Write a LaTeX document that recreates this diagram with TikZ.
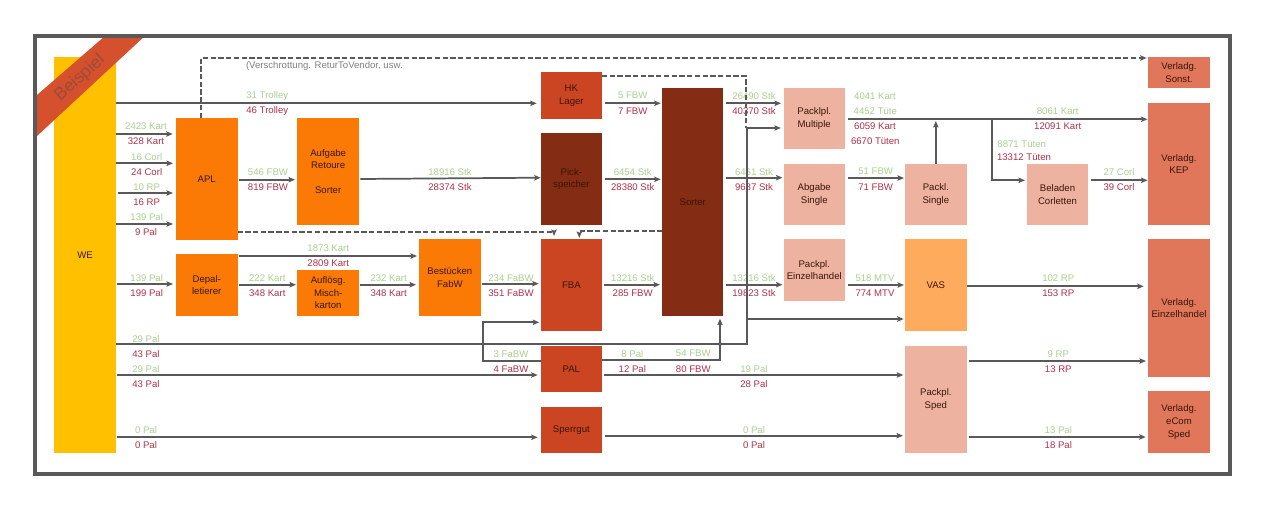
\documentclass[tikz,border=0pt]{standalone}
\usepackage{fontspec}
\setmainfont{Liberation Sans}
\usetikzlibrary{arrows.meta}
\definecolor{cwe}{HTML}{FFC000}
\definecolor{corange}{HTML}{FB7A05}
\definecolor{cred}{HTML}{CC4522}
\definecolor{cdark}{HTML}{842C14}
\definecolor{cpale}{HTML}{EEB3A0}
\definecolor{cvas}{HTML}{FFAB5E}
\definecolor{cverl}{HTML}{E0775A}
\definecolor{cribbon}{HTML}{D5502C}
\definecolor{cline}{HTML}{595959}
\definecolor{cgreen}{HTML}{A9D18E}
\definecolor{cmaroon}{HTML}{B0304A}
\definecolor{cboxtext}{HTML}{3A1508}
\newcount\lblcount
\newcommand{\bx}[7]{\node[boxnode,fill=#6,minimum width={(#4-#2)*0.75pt},minimum height={(#5-#3)*0.75pt}] (#1) at ({(#2+#4)/2},{(#3+#5)/2}) {#7};}
\newcommand{\lbl}[4]{\global\advance\lblcount by 1 \node[flowlabel,text=#1] (lab\the\lblcount) at (#2,#3) {#4};}
\newcommand{\gl}[3]{\lbl{cgreen}{#1}{#2}{#3}}
\newcommand{\rd}[3]{\lbl{cmaroon}{#1}{#2}{#3}}
\newcommand{\flow}[5]{\draw[conn,shorten <=#4*0.75pt,shorten >=#5*0.75pt] (#1.east |- 0,#3) -- (#2.west |- 0,#3);}
\tikzset{
  x=0.75pt,y=-0.75pt,
  boxnode/.style={inner sep=0pt,outer sep=0pt,align=center,text=cboxtext,font=\fontsize{7.2}{9.4}\selectfont},
  flowlabel/.style={inner sep=0pt,outer sep=0pt,font=\fontsize{7.2}{9}\selectfont},
  conn/.style={draw=cline,line width=1.3pt,-{Stealth[length=4.8pt,width=4pt,inset=0.8pt]}},
  dashconn/.style={conn,dash pattern=on 4pt off 1.8pt},
  dashplain/.style={draw=cline,line width=1.3pt,dash pattern=on 4pt off 1.8pt}
}
\begin{document}
\begin{tikzpicture}
\useasboundingbox (0,0) rectangle (1280,507);
\fill[white] (0,0) rectangle (1280,507);
% boxes
\bx{we}{54}{57}{116}{452.7}{cwe}{WE}
\bx{apl}{176}{118}{237.5}{240}{corange}{APL}
\bx{aufgabe}{297.3}{118}{359}{225}{corange}{Aufgabe\\Retoure\\~\\Sorter}
\bx{depal}{176}{254.3}{237.5}{316}{corange}{Depal-\\letierer}
\bx{aufl}{297.3}{270}{359}{316}{corange}{Auflösg.\\Misch-\\karton}
\bx{best}{419}{239.3}{480.7}{316}{corange}{Bestücken\\FabW}
\bx{hk}{540.7}{72.3}{602}{118.7}{cred}{HK\\Lager}
\bx{pick}{540.7}{133}{602}{225}{cdark}{Pick-\\speicher}
\bx{fba}{540.7}{239.3}{602}{331}{cred}{FBA}
\bx{pal}{540.7}{346}{602}{392}{cred}{PAL}
\bx{sperr}{540.7}{406.7}{602}{452.7}{cred}{Sperrgut}
\bx{sorter}{662.3}{87.7}{723.3}{316}{cdark}{Sorter}
\bx{mult}{783.5}{87.7}{845}{149}{cpale}{Packlpl.\\Multiple}
\bx{abgabe}{783.5}{163.7}{845}{225}{cpale}{Abgabe\\Single}
\bx{einzel}{783.5}{239.3}{845}{300.7}{cpale}{Packpl.\\Einzelhandel}
\bx{single}{905}{163.7}{966.7}{225}{cpale}{Packl.\\Single}
\bx{vas}{905}{239.3}{966.7}{331}{cvas}{VAS}
\bx{sped}{905}{346}{966.7}{452.7}{cpale}{Packpl.\\Sped}
\bx{belad}{1026.7}{163.7}{1088.3}{225}{cpale}{Beladen\\Corletten}
\bx{sonst}{1148}{57.3}{1210}{88.3}{cverl}{Verladg.\\Sonst.}
\bx{kep}{1148}{102.7}{1210}{225}{cverl}{Verladg.\\KEP}
\bx{veinz}{1148}{239.3}{1210}{376.7}{cverl}{Verladg.\\Einzelhandel}
\bx{ecom}{1148}{391.3}{1210}{452.7}{cverl}{Verladg.\\eCom\\Sped}
% ribbon and frame
\fill[cribbon] (102.7,38) -- (142.7,38) -- (37,136) -- (37,95) -- cycle;
\node[inner sep=0pt,rotate=42,text=black!25!cribbon!75!gray,font=\fontsize{13}{13}\selectfont] (beispiel) at (80,78) {Beispiel};
\draw[cline,line width=3pt] (35,36) rectangle (1230,474);
% labels
\node[flowlabel,anchor=west,text=gray] (note) at (246,66) {(Verschrottung. ReturToVendor, usw.};
\gl{267.3}{95.7}{31 Trolley}\rd{267.3}{111}{46 Trolley}
\gl{146}{126}{2423 Kart}\rd{146}{141}{328 Kart}
\gl{146.7}{156.7}{16 Corl}\rd{146.7}{171.7}{24 Corl}
\gl{146.7}{186.7}{10 RP}\rd{146.7}{202}{16 RP}
\gl{146.7}{217}{139 Pal}\rd{146}{232.3}{9 Pal}
\gl{268}{171.7}{546 FBW}\rd{268}{186.7}{819 FBW}
\gl{328.3}{247.7}{1873 Kart}\rd{328.3}{262.7}{2809 Kart}
\gl{146.7}{277.7}{139 Pal}\rd{146.7}{293}{199 Pal}
\gl{267.3}{277.7}{222 Kart}\rd{267.3}{293}{348 Kart}
\gl{388.7}{277.7}{232 Kart}\rd{388.7}{293}{348 Kart}
\gl{146}{338.7}{29 Pal}\rd{146}{354}{43 Pal}
\gl{146}{369}{29 Pal}\rd{146}{384.3}{43 Pal}
\gl{146}{430}{0 Pal}\rd{146}{445}{0 Pal}
\gl{450}{171.7}{18916 Stk}\rd{450}{186.7}{28374 Stk}
\gl{632.7}{95.7}{5 FBW}\rd{632.7}{110.7}{7 FBW}
\gl{632.7}{171.7}{6454 Stk}\rd{632.7}{186.7}{28380 Stk}
\gl{754}{95.7}{26490 Stk}\rd{754}{110.7}{40370 Stk}
\gl{754}{171.7}{6461 Stk}\rd{754}{186.7}{9687 Stk}
\gl{511}{277.7}{234 FaBW}\rd{511}{293}{351 FaBW}
\gl{632.7}{277.7}{13216 Stk}\rd{632.7}{293}{285 FBW}
\gl{754}{277.7}{13216 Stk}\rd{754}{293}{19823 Stk}
\gl{511}{353.7}{3 FaBW}\rd{511}{369}{4 FaBW}
\gl{632.3}{353.7}{8 Pal}\rd{632.3}{369}{12 Pal}
\gl{693.3}{353.7}{54 FBW}\rd{693.3}{369}{80 FBW}
\gl{754}{369}{19 Pal}\rd{754}{384}{28 Pal}
\gl{754}{430}{0 Pal}\rd{754}{445}{0 Pal}
\gl{875}{95.7}{4041 Kart}\gl{875.3}{110.7}{4452 Tüte}
\rd{875}{126}{6059 Kart}\rd{875.3}{141.3}{6670 Tüten}
\gl{1057.7}{110.7}{8061 Kart}\rd{1057.7}{126}{12091 Kart}
\gl{1021.7}{144}{8871 Tüten}\rd{1024}{157.3}{13312 Tüten}
\gl{1119}{171.7}{27 Corl}\rd{1119}{186.7}{39 Corl}
\gl{875.7}{171.7}{51 FBW}\rd{875.7}{186.7}{71 FBW}
\gl{875}{277.7}{518 MTV}\rd{875}{293}{774 MTV}
\gl{1058.3}{277.7}{102 RP}\rd{1058.3}{293}{153 RP}
\gl{1058.3}{353.7}{9 RP}\rd{1058.3}{369}{13 RP}
\gl{1058.3}{430}{13 Pal}\rd{1058.3}{445}{18 Pal}
% straight connectors
\flow{we}{hk}{103.3}{0}{4}
\flow{we}{apl}{134}{0}{3.3}
\flow{we}{apl}{163.3}{0}{3}
\flow{we}{apl}{193}{1.7}{3}
\flow{we}{apl}{224}{0}{3}
\flow{apl}{aufgabe}{179.7}{1.2}{2.3}
\draw[conn,shorten <=1pt,shorten >=0pt] (aufgabe.east |- 0,179) -- (pick.west |- 0,177.7);
\flow{we}{depal}{284}{1}{3}
\flow{depal}{best}{256}{1.5}{2}
\flow{depal}{aufl}{284.7}{1.5}{1.3}
\flow{aufl}{best}{284.7}{1}{3}
\flow{best}{fba}{283.7}{1.6}{2}
\flow{fba}{sorter}{284.7}{2}{2.3}
\flow{hk}{sorter}{103.3}{2.7}{1.6}
\flow{pick}{sorter}{179.3}{2.7}{1.6}
\flow{sorter}{mult}{103.3}{2.7}{2.5}
\flow{sorter}{abgabe}{177.7}{2.7}{1}
\flow{sorter}{einzel}{284.7}{2.7}{1}
\flow{we}{pal}{375}{0.7}{3}
\flow{we}{sperr}{437.3}{0.7}{3}
\flow{pal}{sped}{375}{2}{1.7}
\flow{sperr}{sped}{435.7}{3}{2}
\flow{mult}{kep}{119.3}{3}{0.5}
\flow{abgabe}{single}{178}{3}{1}
\flow{einzel}{vas}{285}{3}{1}
\flow{belad}{kep}{180.3}{2.7}{0.5}
\flow{vas}{veinz}{286.3}{0}{4.3}
\flow{sped}{veinz}{361}{2.6}{2}
\flow{sped}{ecom}{437}{2}{2.3}
\draw[conn] (single.north) -- (single.north |- 0,121);
% routed connectors
\coordinate (weturn) at (747,343.7);
\coordinate (branchvas) at (747,319);
\coordinate (branchbel) at (992.3,119.3);
\draw[conn,shorten >=2pt] (we.east |- weturn) -- (weturn) -- (747,128) -- (mult.west |- 0,128);
\draw[conn,shorten >=1pt] (branchvas) -- (vas.west |- branchvas);
\draw[conn,shorten >=1.3pt] (branchbel) -- (992.3,180.3) -- (belad.west |- 0,180.3);
\draw[conn,shorten >=1.1pt] (pal.west |- 0,361.3) -- (483.3,361.3) -- (483.3,322.3) -- (fba.west |- 0,322.3);
\draw[conn,shorten >=2pt] (pal.east |- 0,360.3) -- (720,360.3) -- (720,0 |- sorter.south);
% dashed connectors
\draw[dashconn,shorten >=1pt] (201,0 |- apl.north) -- (201,58) -- (sonst.west |- 0,58);
\draw[dashconn,shorten >=2.5pt] (apl.east |- 0,232) -- (554,232) -- (554,0 |- fba.north);
\draw[dashconn,shorten >=1pt] (sorter.west |- 0,231) -- (579.3,231) -- (579.3,0 |- fba.north);
\draw[dashplain] (hk.east |- 0,76.3) -- (746,76.3) -- (746,128);
\end{tikzpicture}
\end{document}
